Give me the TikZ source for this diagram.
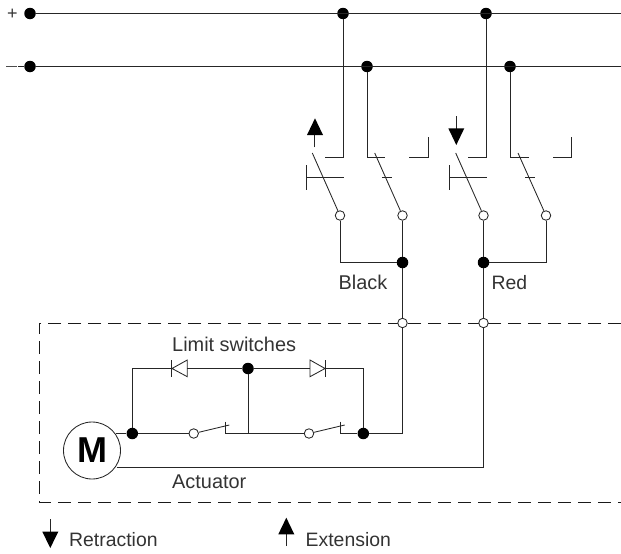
\documentclass[tikz,border=0pt]{standalone}
\usepackage{fontspec}
\setmainfont{Liberation Sans}
\tikzset{
  wire/.style={line width=0.85pt,draw=black!85,line join=miter},
  dot/.style={circle,fill=black,draw=none,minimum size=11.5pt,inner sep=0pt},
  opendot/.style={circle,fill=white,draw=black!85,line width=0.85pt,minimum size=9.5pt,inner sep=0pt},
  lbl/.style={inner sep=0pt,anchor=base west,font=\fontsize{19.4}{21}\selectfont,text=black!80},
  lblw/.style={lbl,font=\fontsize{19.9}{21}\selectfont},
  head/.style={fill=black,draw=none},
  frame/.style={line width=0.95pt,draw=black!90,dash pattern=on 13pt off 7pt}
}
\begin{document}
\begin{tikzpicture}[x=1pt,y=-1pt]
\useasboundingbox (0,0) rectangle (621,554);
% frame
\coordinate (fa) at (621,323); \coordinate (fb) at (39,323); \coordinate (fc) at (39,502); \coordinate (fd) at (621,502);
\draw[frame] (fa) -- (fb) -- (fc) -- (fd);
% supply nodes
\node[dot] (p0) at (30,13.5) {};
\node[dot] (m0) at (30,66.5) {};
\coordinate (pe) at (621,13.5); \coordinate (me) at (621,66.5);
\node[dot] (p1) at (343,13.5) {};
\node[dot] (p2) at (486,13.5) {};
\node[dot] (m1) at (367,66.5) {};
\node[dot] (m2) at (510,66.5) {};
\draw[wire] (p0) -- (pe);
\draw[wire] (m0) -- (me);
\coordinate (mdL) at (18,66.5);
\draw[wire] (mdL) -- (m0);
\node[inner sep=0pt,text=black!80] (plus) at (12.5,14) {\fontsize{18}{20}\selectfont +};
\coordinate (da) at (6,66.5); \coordinate (db) at (17,66.5);
\draw[line width=1.2pt,draw=black!70] (da) -- (db);
% contact stubs
\coordinate (a1) at (343,157); \coordinate (a2) at (324.5,157);
\coordinate (b1) at (367,157); \coordinate (b2) at (385,157);
\coordinate (c1) at (409,157); \coordinate (c2) at (428,157); \coordinate (c3) at (428,137);
\coordinate (d1) at (486,157); \coordinate (d2) at (467.5,157);
\coordinate (e1) at (510,157); \coordinate (e2) at (528.5,157);
\coordinate (f1) at (553,157); \coordinate (f2) at (571.5,157); \coordinate (f3) at (571.5,137);
\draw[wire] (p1) -- (a1) -- (a2);
\draw[wire] (m1) -- (b1) -- (b2);
\draw[wire] (c1) -- (c2) -- (c3);
\draw[wire] (p2) -- (d1) -- (d2);
\draw[wire] (m2) -- (e1) -- (e2);
\draw[wire] (f1) -- (f2) -- (f3);
% switch pivots and junctions
\node[opendot] (s1) at (340,215.5) {};
\node[opendot] (s2) at (402.5,215.5) {};
\node[opendot] (s3) at (483.5,215.5) {};
\node[opendot] (s4) at (546,215.5) {};
\node[dot] (jb) at (402.5,262.5) {};
\node[dot] (jr) at (483.5,262.5) {};
\node[opendot] (fb1) at (402.5,323) {};
\node[opendot] (fr1) at (483.5,323) {};
% blades
\coordinate (t1) at (312.3,153); \coordinate (t2) at (374.7,153);
\coordinate (t3) at (455.7,153); \coordinate (t4) at (518,153);
\draw[wire] (t1) -- (s1);
\draw[wire] (t2) -- (s2);
\draw[wire] (t3) -- (s3);
\draw[wire] (t4) -- (s4);
% push buttons and ticks
\coordinate (g1) at (306,165); \coordinate (g2) at (306,190); \coordinate (g3) at (306,177.5); \coordinate (g4) at (344,177.5);
\coordinate (h1) at (382,177.5); \coordinate (h2) at (392,177.5);
\coordinate (i1) at (449.7,165); \coordinate (i2) at (449.7,190); \coordinate (i3) at (449.7,177.5); \coordinate (i4) at (487,177.5);
\coordinate (k1) at (525,177.5); \coordinate (k2) at (535,177.5);
\draw[wire] (g1) -- (g2); \draw[wire] (g3) -- (g4);
\draw[wire] (h1) -- (h2);
\draw[wire] (i1) -- (i2); \draw[wire] (i3) -- (i4);
\draw[wire] (k1) -- (k2);
% lower connections
\draw[wire] (s1) |- (jb);
\draw[wire] (s2) -- (jb);
\draw[wire] (s3) -- (jr);
\draw[wire] (s4) |- (jr);
\draw[wire] (jb) -- (fb1);
\draw[wire] (jr) -- (fr1);
% motor and limit switches
\node[circle,draw=black!85,line width=0.85pt,minimum size=57pt,inner sep=0pt,font=\fontsize{36}{38}\bfseries\selectfont] (M) at (92,450.5) {M};
\node[dot] (l1) at (132.3,433.5) {};
\node[dot] (l2) at (363.3,433.5) {};
\node[dot] (top) at (248,368.5) {};
\node[opendot] (w1) at (193.7,433.5) {};
\node[opendot] (w2) at (309,433.5) {};
\coordinate (mo) at (116,433.5);
\coordinate (x1) at (229.3,425); \coordinate (x2) at (225,421.7); \coordinate (x3) at (225,433.5);
\coordinate (y1) at (344.7,425); \coordinate (y2) at (340,421.7); \coordinate (y3) at (340,433.5);
\coordinate (jm) at (248,433.5);
\coordinate (ar) at (116.5,467.5); \coordinate (rr) at (483.5,467.5);
\draw[wire] (mo) -- (l1) -- (w1);
\draw[wire] (w1) -- (x1);
\draw[wire] (x2) -- (x3) -- (w2);
\draw[wire] (w2) -- (y1);
\draw[wire] (y2) -- (y3) -- (l2);
\draw[wire] (top) -- (jm);
\draw[wire] (l2) -| (fb1);
\draw[wire] (ar) -- (rr) -- (fr1);
% diodes
\coordinate (q1) at (132.3,368.5); \coordinate (q2) at (172,368.5); \coordinate (q3) at (187.3,368.5);
\coordinate (r1) at (310,368.5); \coordinate (r2) at (325,368.5); \coordinate (r3) at (363.3,368.5);
\draw[wire] (l1) -- (q1) -- (q2);
\draw[wire] (q3) -- (top) -- (r1);
\draw[wire] (r2) -- (r3) -- (l2);
\draw[wire] (187.3,360) -- (172,368.5) -- (187.3,376.7) -- cycle;
\draw[wire] (171.7,360) -- (171.7,376.7);
\draw[wire] (310,360) -- (325,368.5) -- (310,376.7) -- cycle;
\draw[wire] (325,360) -- (325,376.7);
% arrows
\draw[wire] (314.7,147.3) -- (314.7,133);
\fill[head] (307,135) -- (315,118.3) -- (323,135) -- cycle;
\draw[wire] (456,116) -- (456,130);
\fill[head] (448.3,128.3) -- (456.3,145) -- (464.3,128.3) -- cycle;
\draw[wire] (50.3,519) -- (50.3,533);
\fill[head] (42.3,531.7) -- (50.3,548) -- (58.3,531.7) -- cycle;
\draw[wire] (286.3,546) -- (286.3,532);
\fill[head] (278.3,534.3) -- (286.3,517.7) -- (294.3,534.3) -- cycle;
% labels
\node[lblw] (tb) at (338.5,289) {Black};
\node[lbl] (tr) at (491.5,289) {Red};
\node[lblw] (tl) at (172,351) {Limit switches};
\node[lblw] (ta) at (172,488) {Actuator};
\node[lbl] (tre) at (69,546.5) {Retraction};
\node[lbl] (tex) at (305.5,546.5) {Extension};
\end{tikzpicture}
\end{document}
